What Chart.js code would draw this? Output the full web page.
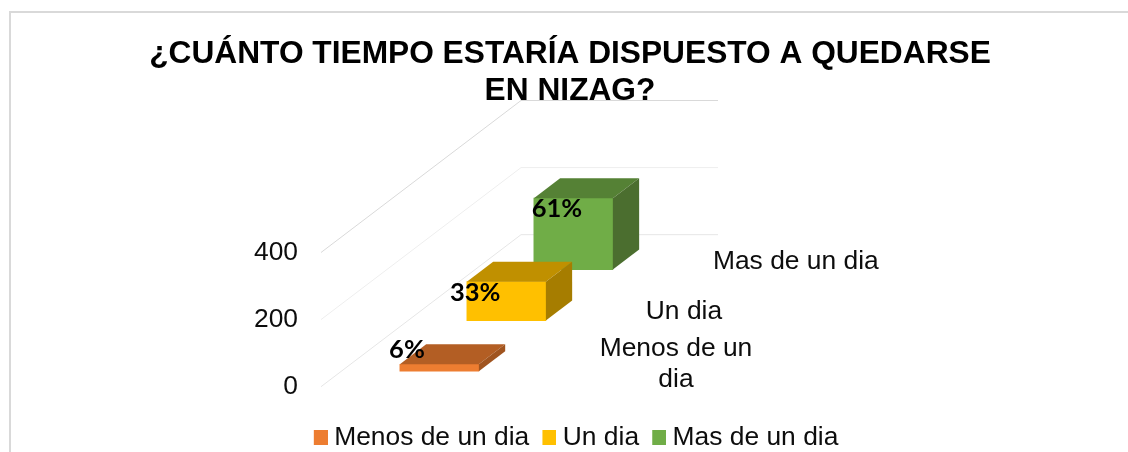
<!DOCTYPE html>
<html>
<head>
<meta charset="utf-8">
<style>
html,body{margin:0;padding:0;background:#fff;overflow:hidden;width:1128px;height:452px}
#frame{position:absolute;left:9px;top:11px;width:1300px;height:700px;border:2px solid #d9d9d9;box-sizing:border-box}
#wrap{position:absolute;left:0;top:0;width:1128px;height:452px}
</style>
<script src="https://cdn.jsdelivr.net/npm/chart.js@4"></script>
</head>
<body>
<div id="frame"></div>
<div id="wrap"><canvas id="c" width="1128" height="452"></canvas></div>
<script>
const titleLines = ['¿CUÁNTO TIEMPO ESTARÍA DISPUESTO A QUEDARSE', 'EN NIZAG?'];
const categories = ['Menos de un dia', 'Un dia', 'Mas de un dia'];
const values = [21, 116, 213];
const percentLabels = ['6%', '33%', '61%'];
const depthFloors = [46, 197, 349];
const yTicks = [0, 200, 400];
const frontColors = ['#ED7D31', '#FFC000', '#70AD47'];
const topColors = ['#B35E24', '#C09000', '#558135'];
const sideColors = ['#A0541F', '#A67D00', '#4B6E2F'];
const gridColors = ['#e6e6e6', '#eeeeee', '#d9d9d9'];

const FONT = '"Liberation Sans", Arial, sans-serif';
const TEXT = '#0d0d0d';
const FS = 26.4;
const BAR_DEPTH = {dx: 26.3, dy: -20};
const WALL = {dx: 200, dy: -152, right: 718};
const PCT_OFFSET = [{dx: -32.4, dy: -14}, {dx: -31.2, dy: 11}, {dx: -16.4, dy: 11}];
const CAT_LABEL = [
  {lines: ['Menos de un', 'dia'], dx: 236.6, dy: -23},
  {lines: ['Un dia'], dx: 177.6, dy: -9},
  {lines: ['Mas de un dia'], dx: 222.5, dy: -7.5}
];

function legendSwatch(color) {
  const cv = document.createElement('canvas');
  cv.width = 21; cv.height = 15;
  const g = cv.getContext('2d');
  g.fillStyle = color;
  g.fillRect(7, 0, 14, 15);
  return cv;
}

const depthPlugin = {
  id: 'depth',
  afterLayout(chart) {
    const lg = chart.legend;
    lg.top += 25;
    lg.bottom += 25;
    lg.left += 6;
    lg.right += 6;
  },
  beforeDatasetsDraw(chart) {
    const {ctx, chartArea, scales: {y}} = chart;
    ctx.save();
    ctx.lineWidth = 1;
    y.ticks.forEach((t, i) => {
      const py = y.getPixelForValue(t.value);
      const x0 = chartArea.left;
      ctx.strokeStyle = gridColors[i];
      ctx.beginPath();
      ctx.moveTo(x0, py);
      ctx.lineTo(x0 + WALL.dx, py + WALL.dy);
      ctx.lineTo(WALL.right, py + WALL.dy);
      ctx.stroke();
    });
    ctx.restore();
  },
  afterDatasetDraw(chart, args) {
    const {ctx} = chart;
    const i = args.index;
    chart.getDatasetMeta(i).data.forEach(bar => {
      const {x, y, base, width} = bar.getProps(['x', 'y', 'base', 'width'], true);
      const l = x - width / 2, r = x + width / 2;
      const {dx, dy} = BAR_DEPTH;
      ctx.save();
      ctx.fillStyle = topColors[i];
      ctx.beginPath();
      ctx.moveTo(l, y); ctx.lineTo(l + dx, y + dy); ctx.lineTo(r + dx, y + dy); ctx.lineTo(r, y);
      ctx.closePath(); ctx.fill();
      ctx.fillStyle = sideColors[i];
      ctx.beginPath();
      ctx.moveTo(r, y); ctx.lineTo(r + dx, y + dy); ctx.lineTo(r + dx, base + dy); ctx.lineTo(r, base);
      ctx.closePath(); ctx.fill();
      ctx.restore();
    });
  },
  afterDatasetsDraw(chart) {
    const {ctx} = chart;
    ctx.save();
    ctx.textAlign = 'center';
    ctx.textBaseline = 'middle';
    categories.forEach((c, i) => {
      const bar = chart.getDatasetMeta(i).data[0];
      const {x, y, base} = bar.getProps(['x', 'y', 'base'], true);
      ctx.fillStyle = '#000';
      ctx.font = 'bold 25.5px Lato, sans-serif';
      ctx.fillText(percentLabels[i], x + PCT_OFFSET[i].dx, y + PCT_OFFSET[i].dy);
      ctx.fillStyle = TEXT;
      ctx.font = FS + 'px ' + FONT;
      CAT_LABEL[i].lines.forEach((line, k) => {
        ctx.fillText(line, x + CAT_LABEL[i].dx, base + CAT_LABEL[i].dy + k * 31);
      });
    });
    ctx.restore();
  }
};

new Chart(document.getElementById('c'), {
  type: 'bar',
  data: {
    datasets: categories.map((c, i) => ({
      label: c,
      data: [{x: i, y: [depthFloors[i], depthFloors[i] + values[i]]}],
      backgroundColor: frontColors[i],
      borderWidth: 0,
      barThickness: 79,
      grouped: false
    }))
  },
  plugins: [depthPlugin],
  options: {
    responsive: false,
    animation: false,
    devicePixelRatio: 1,
    layout: {padding: {left: 12, right: 0, top: 0, bottom: 15.9}},
    scales: {
      x: {type: 'linear', display: false, offset: false, min: -1.767, max: 10.28},
      y: {
        min: 0, max: 600,
        afterBuildTicks(s) { s.ticks = yTicks.map(v => ({value: v})); },
        afterFit(s) { s.width = 309; },
        grid: {display: false, drawTicks: false},
        border: {display: false},
        ticks: {color: TEXT, padding: 23, font: {family: FONT, size: FS}}
      }
    },
    plugins: {
      tooltip: {enabled: false},
      title: {
        display: true,
        text: titleLines,
        color: '#000',
        font: {family: FONT, size: 31.7, weight: 'bold', lineHeight: 37 / 31.7},
        padding: {top: 35.5, bottom: 75.9}
      },
      legend: {
        position: 'bottom',
        labels: {
          color: TEXT,
          font: {family: FONT, size: FS},
          padding: 13,
          boxWidth: 7.3,
          boxHeight: 15,
          usePointStyle: true,
          pointStyleWidth: 7.3,
          generateLabels: chart => chart.data.datasets.map((d, i) => ({
            text: d.label,
            fontColor: TEXT,
            pointStyle: legendSwatch(frontColors[i]),
            datasetIndex: i,
            lineWidth: 0,
            hidden: false
          }))
        }
      }
    }
  }
});
</script>
</body>
</html>
